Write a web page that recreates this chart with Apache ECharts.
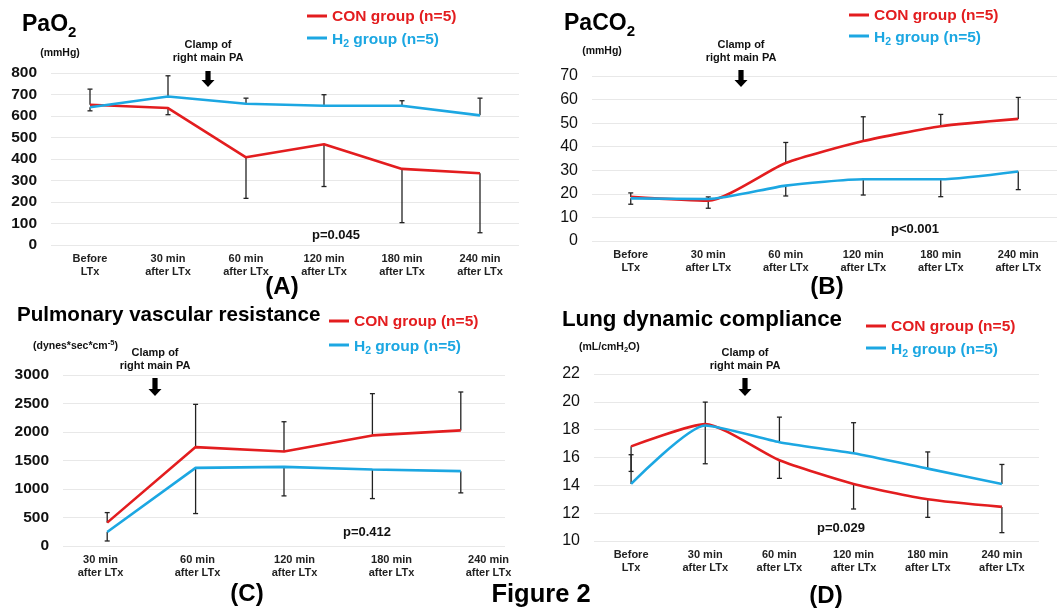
<!DOCTYPE html>
<html>
<head>
<meta charset="utf-8">
<script src="https://cdn.jsdelivr.net/npm/echarts@6/dist/echarts.min.js"></script>
<style>html,body{margin:0;padding:0;background:#fff;}#c{width:1057px;height:614px;}</style>
</head>
<body>
<div id="c"></div>
<script>
// ---------- data ----------
const categories6 = ['Before\nLTx', '30 min\nafter LTx', '60 min\nafter LTx', '120 min\nafter LTx', '180 min\nafter LTx', '240 min\nafter LTx'];
const categories5 = ['30 min\nafter LTx', '60 min\nafter LTx', '120 min\nafter LTx', '180 min\nafter LTx', '240 min\nafter LTx'];

// (A) PaO2 (mmHg)
const paO2Con = [652, 637, 408, 469, 354, 334];
const paO2H2 = [641, 691, 657, 648, 648, 603];
const paO2ConErrEnd = [725, 606, 217, 272, 104, 57];
const paO2H2ErrEnd = [624, 787, 683, 699, 671, 683];

// (B) PaCO2 (mmHg)
const paCO2Con = [18.7, 17.1, 33.1, 42.4, 48.7, 51.8];
const paCO2H2 = [18.1, 17.8, 23.5, 26.2, 26.2, 29.5];
const paCO2ConErrEnd = [20.4, 13.9, 41.8, 52.7, 53.7, 60.9];
const paCO2H2ErrEnd = [15.6, 18.7, 19.1, 19.5, 18.8, 21.8];

// (C) Pulmonary vascular resistance (dynes*sec*cm-5)
const pvrCon = [410, 1735, 1659, 1940, 2028];
const pvrH2 = [246, 1371, 1389, 1342, 1313];
const pvrConErrEnd = [586, 2485, 2180, 2673, 2702];
const pvrH2ErrEnd = [88, 569, 879, 832, 932];

// (D) Lung dynamic compliance (mL/cmH2O)
const compCon = [16.8, 18.4, 15.8, 14.1, 13.0, 12.45];
const compH2 = [14.1, 18.3, 17.1, 16.3, 15.2, 14.1];
const compConErrEnd = [15.0, 19.98, 14.5, 12.3, 11.7, 10.6];
const compH2ErrEnd = [16.2, 15.55, 18.9, 18.5, 16.4, 15.5];

const pValues = ['p=0.045', 'p<0.001', 'p=0.412', 'p=0.029'];

// ---------- styling ----------
const FONT = '"Liberation Sans", Arial, Helvetica, sans-serif';
const RED = '#e31d1f';
const BLUE = '#1ca7e2';

function xAxis(gi, cats, showLabel) {
  return {
    type: 'category', gridIndex: gi, data: cats, boundaryGap: true,
    axisLine: { show: false }, axisTick: { show: false },
    axisLabel: { show: showLabel !== false, fontFamily: FONT, fontSize: 11, fontWeight: 'bold', color: '#222', lineHeight: 13, margin: 7, interval: 0 }
  };
}
function yAxis(gi, min, max, interval, bold) {
  return {
    type: 'value', gridIndex: gi, min: min, max: max, interval: interval,
    axisLine: { show: false }, axisTick: { show: false },
    splitLine: { lineStyle: { color: '#e8e8e8', width: 1 } },
    axisLabel: { fontFamily: FONT, fontSize: bold ? 15.5 : 16, fontWeight: bold ? 'bold' : 'normal', color: '#111', margin: 14,
                 formatter: function (v) { return String(v); } }
  };
}
function lineSeries(gi, name, data, color, smooth) {
  return {
    type: 'line', name: name, xAxisIndex: gi, yAxisIndex: gi, data: data,
    showSymbol: false, symbol: 'none', smooth: smooth || false, z: 3,
    lineStyle: { color: color, width: 2.6 }, itemStyle: { color: color }
  };
}
function errSeries(gi, vals, ends) {
  return {
    type: 'custom', xAxisIndex: gi, yAxisIndex: gi, z: 2, silent: true,
    data: vals.map((v, i) => [i, v, ends[i]]),
    renderItem: function (params, api) {
      const p0 = api.coord([api.value(0), api.value(1)]);
      const p1 = api.coord([api.value(0), api.value(2)]);
      return {
        type: 'group', children: [
          { type: 'line', shape: { x1: p0[0], y1: p0[1], x2: p1[0], y2: p1[1] }, style: { stroke: '#222', lineWidth: 1.3 } },
          { type: 'line', shape: { x1: p1[0] - 2.5, y1: p1[1], x2: p1[0] + 2.5, y2: p1[1] }, style: { stroke: '#222', lineWidth: 1.3 } }
        ]
      };
    }
  };
}

// ---------- annotation helpers ----------
function txt(x, y, text, size, opts) {
  opts = opts || {};
  return {
    type: 'text', x: x, y: y, z: 10, silent: true,
    style: {
      text: text, fill: opts.color || '#111', fontFamily: FONT, fontSize: size,
      fontWeight: opts.weight || 'bold', textAlign: opts.align || 'left', textVerticalAlign: 'middle'
    }
  };
}
// rich text with subscripts (mode 'sub') or superscripts (mode 'sup');
// y = vertical centre of the main-size glyphs, d = offset of the small glyph centre
function richTxt(x, y, text, size, subSize, color, d, mode) {
  let rich, off;
  const base = { fontFamily: FONT, fontWeight: 'bold', color: color };
  if (mode === 'sup') {
    const H = d + (size + subSize) / 2;
    rich = {
      m: Object.assign({}, base, { fontSize: size, lineHeight: H, verticalAlign: 'bottom' }),
      u: Object.assign({}, base, { fontSize: subSize, lineHeight: subSize, verticalAlign: 'top' })
    };
    off = H - size / 2;
  } else {
    const H = size / 2 + d + subSize / 2;
    rich = {
      m: Object.assign({}, base, { fontSize: size, lineHeight: size, verticalAlign: 'top' }),
      s: Object.assign({}, base, { fontSize: subSize, lineHeight: H, verticalAlign: 'bottom' })
    };
    off = size / 2;
  }
  return {
    type: 'text', x: x, y: y - off, z: 10, silent: true,
    style: {
      text: text, fill: color, fontFamily: FONT, fontSize: size, fontWeight: 'bold',
      textAlign: 'left', textVerticalAlign: 'top', rich: rich
    }
  };
}
function legend(x, yCon, yH2, size) {
  return [
    { type: 'line', z: 10, silent: true, shape: { x1: x, y1: yCon, x2: x + 20, y2: yCon }, style: { stroke: RED, lineWidth: 3 } },
    { type: 'line', z: 10, silent: true, shape: { x1: x, y1: yH2, x2: x + 20, y2: yH2 }, style: { stroke: BLUE, lineWidth: 3 } },
    richTxt(x + 25, yCon, '{m|CON group (n=5)}', size, 10.5, RED, 5),
    richTxt(x + 25, yH2 + 1, '{m|H}{s|2}{m| group (n=5)}', size, 10.5, BLUE, 5)
  ];
}
function arrow(cx, top, bottom) {
  return {
    type: 'polygon', z: 10, silent: true,
    shape: { points: [[cx - 2.6, top], [cx + 2.6, top], [cx + 2.6, bottom - 7], [cx + 6.5, bottom - 7], [cx, bottom], [cx - 6.5, bottom - 7], [cx - 2.6, bottom - 7]] },
    style: { fill: '#000' }
  };
}
function clamp(cx, y1, arrTop, arrBottom) {
  return [
    txt(cx, y1, 'Clamp of', 11, { align: 'center' }),
    txt(cx, y1 + 13, 'right main PA', 11, { align: 'center' }),
    arrow(cx, arrTop, arrBottom)
  ];
}

const graphic = [].concat(
  // Panel A
  [richTxt(22, 25, '{m|PaO}{s|2}', 23, 15, '#000', 8),
   txt(60, 53, '(mmHg)', 10.5, { align: 'center' })],
  legend(307, 16, 38, 15.5),
  clamp(208, 45, 71, 87),
  [txt(336, 235, pValues[0], 13, { align: 'center' }),
   txt(282, 287, '(A)', 24, { align: 'center', color: '#000' })],
  // Panel B
  [richTxt(564, 24, '{m|PaCO}{s|2}', 23, 15, '#000', 8),
   txt(602, 51, '(mmHg)', 10.5, { align: 'center' })],
  legend(849, 15, 36, 15.5),
  clamp(741, 45, 70, 87),
  [txt(915, 229, pValues[1], 13, { align: 'center' }),
   txt(827, 287, '(B)', 24, { align: 'center', color: '#000' })],
  // Panel C
  [txt(17, 315, 'Pulmonary vascular resistance', 20.6, { color: '#000' }),
   richTxt(33, 346, '{m|(dynes*sec*cm}{u|-5}{m|)}', 10.5, 7.5, '#111', 3, 'sup')],
  legend(329, 321, 345, 15.5),
  clamp(155, 353, 378, 396),
  [txt(367, 532, pValues[2], 13, { align: 'center' }),
   txt(247, 594, '(C)', 24, { align: 'center', color: '#000' }),
   txt(541, 595, 'Figure 2', 25.5, { align: 'center', color: '#000' })],
  // Panel D
  [txt(562, 320, 'Lung dynamic compliance', 22.3, { color: '#000' }),
   richTxt(579, 347, '{m|(mL/cmH}{s|2}{m|O)}', 10.5, 7.5, '#111', 3)],
  legend(866, 326, 348, 15.5),
  clamp(745, 353, 378, 396),
  [txt(841, 528, pValues[3], 13, { align: 'center' }),
   txt(826, 596, '(D)', 24, { align: 'center', color: '#000' })]
);

// panel C's category labels are spread wider than its data points in the original,
// so they are drawn by a label-only axis on an extra, wider grid (index 4)
const labelAxisC = xAxis(4, categories5, true);
const hiddenYC = { type: 'value', gridIndex: 4, min: 0, max: 3000, show: false, splitLine: { show: false } };

const option = {
  animation: false,
  backgroundColor: '#ffffff',
  textStyle: { fontFamily: FONT },
  grid: [
    { left: 51, top: 73, width: 468, height: 172 },
    { left: 592, top: 76, width: 470, height: 165 },
    { left: 63, top: 375, width: 442, height: 171 },
    { left: 594, top: 374, width: 445, height: 167 },
    { left: 52, top: 375, width: 485, height: 171, show: false }
  ],
  xAxis: [xAxis(0, categories6), xAxis(1, categories6), xAxis(2, categories5, false), xAxis(3, categories6), labelAxisC],
  yAxis: [yAxis(0, 0, 800, 100, true), yAxis(1, 0, 70, 10, false), yAxis(2, 0, 3000, 500, true), yAxis(3, 10, 22, 2, false), hiddenYC],
  series: [
    errSeries(0, paO2Con, paO2ConErrEnd), errSeries(0, paO2H2, paO2H2ErrEnd),
    lineSeries(0, 'CON group (n=5)', paO2Con, RED), lineSeries(0, 'H2 group (n=5)', paO2H2, BLUE),
    errSeries(1, paCO2Con, paCO2ConErrEnd), errSeries(1, paCO2H2, paCO2H2ErrEnd),
    lineSeries(1, 'CON group (n=5)', paCO2Con, RED, 0.2), lineSeries(1, 'H2 group (n=5)', paCO2H2, BLUE, 0.2),
    errSeries(2, pvrCon, pvrConErrEnd), errSeries(2, pvrH2, pvrH2ErrEnd),
    lineSeries(2, 'CON group (n=5)', pvrCon, RED), lineSeries(2, 'H2 group (n=5)', pvrH2, BLUE),
    errSeries(3, compCon, compConErrEnd), errSeries(3, compH2, compH2ErrEnd),
    lineSeries(3, 'CON group (n=5)', compCon, RED, 0.2), lineSeries(3, 'H2 group (n=5)', compH2, BLUE, 0.2)
  ],
  graphic: graphic
};

const chart = echarts.init(document.getElementById('c'), null, { renderer: 'canvas' });
chart.setOption(option);
</script>
</body>
</html>
